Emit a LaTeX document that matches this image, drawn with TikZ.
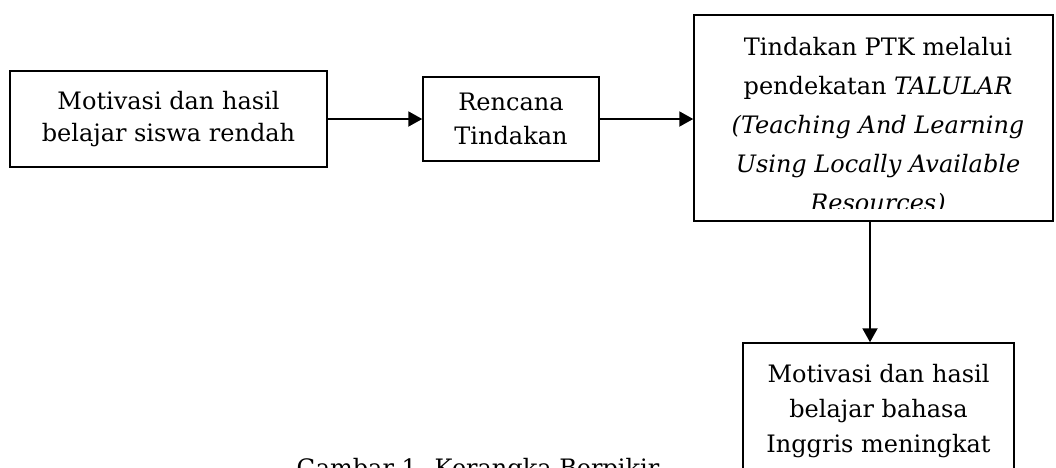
\documentclass[tikz,border=0pt]{standalone}
\usepackage{fontspec}
\setmainfont{DejaVu Serif}
\usetikzlibrary{arrows.meta}
\begin{document}
\begin{tikzpicture}[x=1pt,y=-1pt,
  boxnode/.style={draw,line width=1.5pt,inner sep=0pt,align=center},
  arr/.style={line width=2pt,-{Triangle[length=14pt,width=15pt]}},
  txt/.style={inner sep=0pt,align=center}]
\useasboundingbox (0,0) rectangle (1056,467);
\clip (0,0) rectangle (1056,467);
\node[boxnode,minimum width=317pt,minimum height=96pt,font={\fontsize{24}{32}\selectfont}] (b1) at (168.5,119)
  {Motivasi dan hasil\\belajar siswa rendah};
\node[boxnode,minimum width=176pt,minimum height=84pt,font={\fontsize{24}{34}\selectfont}] (b2) at (511,119)
  {Rencana\\Tindakan};
\node[boxnode,minimum width=359pt,minimum height=206pt] (b3) at (873.5,118) {};
\begin{scope}
  \clip (b3.north west) rectangle ([yshift=13pt]b3.south east);
  \node[txt,anchor=north,font={\fontsize{24}{39}\selectfont}] (t3) at (878,37.5)
    {Tindakan PTK melalui\\pendekatan \textit{TALULAR}\\\textit{(Teaching And Learning}\\\textit{Using Locally Available}\\\textit{Resources)}};
\end{scope}
\node[boxnode,minimum width=271pt,minimum height=137pt,font={\fontsize{24}{35}\selectfont}] (b4) at (878.5,411.5)
  {Motivasi dan hasil\\belajar bahasa\\Inggris meningkat};
\node[txt,anchor=base,font={\fontsize{24}{30}\selectfont}] (cap) at (478,476) {Gambar 1. Kerangka Berpikir};
\draw[arr] (b1.east) -- (b2.west);
\draw[arr] (b2.east) -- (b2.east -| b3.west);
\draw[arr] ([xshift=-3.5pt]b3.south) -- ([xshift=-3.5pt]b3.south |- b4.north);
\end{tikzpicture}
\end{document}
